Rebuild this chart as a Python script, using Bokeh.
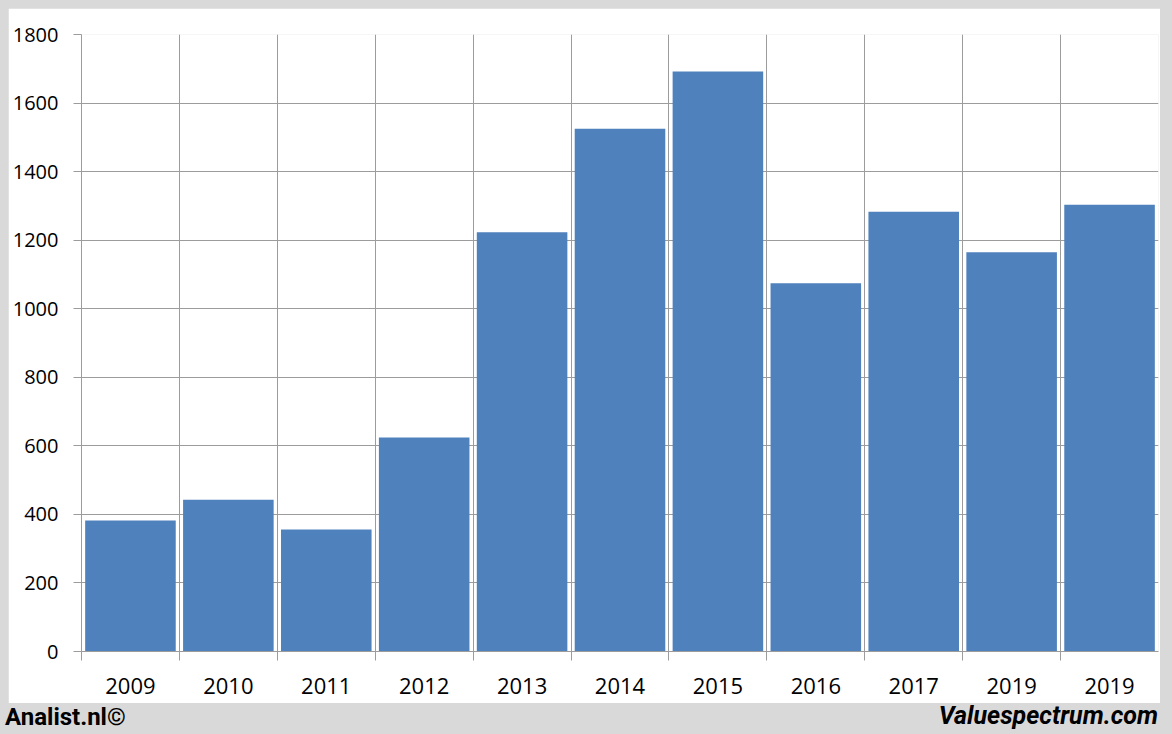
from bokeh.plotting import figure
from bokeh.models import FixedTicker, Range1d, Div
from bokeh.layouts import column
from bokeh.embed import file_html
from bokeh.resources import INLINE

# ---- data ----
years = ["2009", "2010", "2011", "2012", "2013", "2014", "2015", "2016", "2017", "2019", "2019"]
values = [382, 443, 356, 624, 1223, 1525, 1692, 1074, 1283, 1165, 1303]
y_ticks = [0, 200, 400, 600, 800, 1000, 1200, 1400, 1600, 1800]
footer_left = "Analist.nl©"
footer_right = "Valuespectrum.com"

BAR = "#4F81BD"
GRID = "#9c9c9c"
OUTER = "#d9d9d9"
TICK_FONT = "Open Sans"

xs = list(range(len(years)))
bounds = [i - 0.5 for i in xs]

p = figure(width=1152, height=695,
           x_range=Range1d(-0.5, len(years) - 0.5), y_range=Range1d(0, 1800),
           output_backend="svg", toolbar_location=None,
           min_border_left=73, min_border_right=2, min_border_top=26, min_border_bottom=52,
           margin=(8, 0, 0, 8))
p.border_fill_color = "white"
p.background_fill_color = "white"
p.outline_line_color = None

p.vbar(x=xs, top=values, width=0.925, fill_color=BAR, line_color=None)

# x axis
p.xaxis.ticker = FixedTicker(ticks=xs, minor_ticks=bounds)
p.xaxis.major_label_overrides = {i: y for i, y in enumerate(years)}
p.xaxis.major_tick_out = 0
p.xaxis.major_tick_in = 0
p.xaxis.minor_tick_out = 9
p.xaxis.minor_tick_in = 0
p.xaxis.minor_tick_line_color = GRID
p.xaxis.axis_line_color = GRID
p.xaxis.major_label_standoff = 17
p.xaxis.major_label_text_font = TICK_FONT
p.xaxis.major_label_text_font_size = "22px"
p.xaxis.major_label_text_color = "black"

# y axis
p.yaxis.ticker = FixedTicker(ticks=y_ticks)
p.yaxis.major_tick_out = 8
p.yaxis.major_tick_in = 0
p.yaxis.major_tick_line_color = GRID
p.yaxis.axis_line_color = GRID
p.yaxis.minor_tick_line_color = None
p.yaxis.major_label_standoff = 15
p.yaxis.major_label_text_font = TICK_FONT
p.yaxis.major_label_text_font_size = "20px"
p.yaxis.major_label_text_color = "black"

# grids
p.xgrid.ticker = FixedTicker(ticks=bounds[1:])
p.xgrid.grid_line_color = GRID
p.ygrid.ticker = FixedTicker(ticks=y_ticks)
p.ygrid.grid_line_color = GRID

# footer
footer_html = (
    '<div style="position:relative;width:1172px;height:31px;font-family:Roboto;'
    'font-weight:bold;color:black;">'
    '<span style="position:absolute;left:5px;top:2px;font-size:24px;line-height:24px;">'
    + footer_left + '</span>'
    '<span style="position:absolute;right:14px;top:1px;font-size:25px;line-height:24px;'
    'font-style:italic;">' + footer_right + '</span></div>'
)
footer = Div(text=footer_html, width=1172, height=31, margin=(0, 0, 0, 0))

layout = column(p, footer, spacing=0)
html = file_html(layout, INLINE)
html = html.replace("</head>", "<style>body{background:%s;}</style></head>" % OUTER, 1)
open("out.html", "w").write(html)
